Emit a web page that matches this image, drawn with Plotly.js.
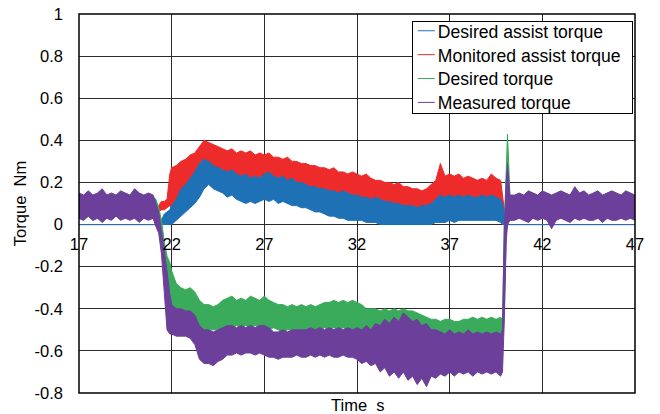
<!DOCTYPE html>
<html>
<head>
<meta charset="utf-8">
<script src="https://cdn.plot.ly/plotly-3.0.1.min.js"></script>
<style>html,body{margin:0;padding:0;background:#fff;}#chart{width:660px;height:414px;}</style>
</head>
<body>
<div id="chart"></div>
<script>
// Time samples (s)
const time = [
  17,17.25,17.5,17.75,18,18.25,18.5,18.75,19,19.25,19.5,19.75,20,20.25,20.5,20.75,21,
  21.15,21.3,21.45,21.6,21.75,21.9,
  22,22.25,22.5,22.75,23,23.25,23.5,23.75,
  24,24.25,24.5,24.75,25,25.25,25.5,25.75,
  26,26.25,26.5,26.75,27,27.25,27.5,27.75,
  28,28.25,28.5,28.75,29,29.25,29.5,29.75,
  30,30.25,30.5,30.75,31,31.25,31.5,31.75,
  32,32.25,32.5,32.75,33,33.25,33.5,33.75,
  34,34.25,34.5,34.75,35,35.25,35.5,35.75,
  36,36.25,36.5,36.75,37,37.25,37.5,37.75,
  38,38.25,38.5,38.75,39,39.25,39.5,39.75,
  39.85,39.95,40.05,40.12,40.25,
  40.5,40.75,41,41.25,41.5,41.75,42,42.25,42.5,42.75,43,43.25,43.5,43.75,44,44.25,44.5,44.75,45,45.25,45.5,45.75,46,46.25,46.5,46.75,47
];

// Desired assist torque (upper / lower edge of the noisy trace)
const desiredAssistHi = [
  0,0,0,0,0,0,0,0,0,0,0,0,0,0,0,0,0,
  0,0,0.02,0.05,0.06,0.07,
  0.09,0.12,0.17,0.19,0.22,0.25,0.29,0.31,
  0.30,0.28,0.27,0.26,0.25,0.26,0.24,0.23,
  0.24,0.22,0.23,0.22,0.24,0.25,0.23,0.22,
  0.23,0.21,0.22,0.20,0.20,0.19,0.18,0.18,
  0.17,0.17,0.16,0.16,0.15,0.16,0.15,0.14,
  0.14,0.13,0.13,0.12,0.13,0.12,0.11,0.11,
  0.10,0.10,0.09,0.09,0.09,0.08,0.09,0.09,
  0.10,0.12,0.14,0.13,0.14,0.13,0.14,0.13,
  0.14,0.13,0.13,0.14,0.13,0.14,0.13,0.12,
  0.10,0.04,0,0,0,
  0,0,0,0,0,0,0,0,0,0,0,0,0,0,0,0,0,0,0,0,0,0,0,0,0,0,0
];
const desiredAssistLo = [
  0,0,0,0,0,0,0,0,0,0,0,0,0,0,0,0,0,
  0,0,0,0,0,0,
  0.00,0.02,0.04,0.06,0.08,0.10,0.13,0.17,
  0.19,0.17,0.16,0.15,0.13,0.14,0.12,0.11,
  0.10,0.11,0.10,0.11,0.12,0.11,0.12,0.10,
  0.11,0.10,0.09,0.09,0.08,0.08,0.07,0.06,
  0.06,0.05,0.04,0.04,0.03,0.03,0.02,0.02,
  0.02,0.02,0.01,0.01,0.01,0,0,0,
  0,0,0,0,0,0,0,0,
  0,0.01,0.01,0.01,0.02,0.01,0.02,0.02,
  0.02,0.02,0.02,0.02,0.02,0.02,0.02,0.01,
  0,0,0,0,0,
  0,0,0,0,0,0,0,0,0,0,0,0,0,0,0,0,0,0,0,0,0,0,0,0,0,0,0
];

// Monitored assist torque
const monitoredAssistHi = [
  0,0,0,0,0,0,0,0,0,0,0,0,0,0,0,0,0,
  0,0.09,0.11,0.11,0.12,0.24,
  0.27,0.28,0.30,0.31,0.33,0.34,0.37,0.40,
  0.39,0.38,0.37,0.36,0.35,0.36,0.34,0.35,
  0.34,0.35,0.33,0.34,0.33,0.34,0.32,0.32,
  0.31,0.32,0.30,0.30,0.29,0.29,0.28,0.28,
  0.27,0.27,0.26,0.27,0.25,0.25,0.24,0.25,
  0.24,0.23,0.24,0.22,0.21,0.21,0.20,0.20,
  0.19,0.20,0.18,0.18,0.17,0.17,0.16,0.17,
  0.19,0.21,0.29,0.23,0.24,0.23,0.24,0.22,
  0.23,0.22,0.21,0.22,0.21,0.24,0.22,0.21,
  0.15,0.07,0,0,0,
  0,0,0,0,0,0,0,0,0,0,0,0,0,0,0,0,0,0,0,0,0,0,0,0,0,0,0
];
const monitoredAssistLo = [
  0,0,0,0,0,0,0,0,0,0,0,0,0,0,0,0,0,
  0,0.06,0.07,0.07,0.08,0.09,
  0.07,0.09,0.11,0.13,0.15,0.17,0.20,0.24,
  0.26,0.24,0.23,0.22,0.20,0.21,0.19,0.18,
  0.17,0.18,0.17,0.18,0.19,0.18,0.19,0.17,
  0.18,0.17,0.16,0.16,0.15,0.15,0.14,0.13,
  0.13,0.12,0.11,0.11,0.10,0.10,0.09,0.09,
  0.09,0.09,0.08,0.08,0.08,0.07,0.07,0.07,
  0.06,0.06,0.06,0.06,0.05,0.05,0.05,0.06,
  0.07,0.08,0.08,0.08,0.09,0.08,0.09,0.09,
  0.09,0.09,0.09,0.09,0.09,0.09,0.09,0.08,
  0.05,0,0,0,0,
  0,0,0,0,0,0,0,0,0,0,0,0,0,0,0,0,0,0,0,0,0,0,0,0,0,0,0
];

// Desired torque
const desiredTorqueHi = [
  0.14,0.13,0.15,0.13,0.14,0.16,0.13,0.14,0.13,0.15,0.14,0.13,0.16,0.14,0.13,0.14,0.13,
  0.12,0.08,0.02,-0.08,-0.15,-0.18,
  -0.22,-0.28,-0.30,-0.31,-0.30,-0.32,-0.36,-0.38,
  -0.38,-0.39,-0.38,-0.36,-0.35,-0.34,-0.36,-0.35,
  -0.36,-0.34,-0.35,-0.36,-0.34,-0.36,-0.37,-0.38,
  -0.38,-0.39,-0.38,-0.39,-0.38,-0.39,-0.38,-0.39,
  -0.38,-0.37,-0.37,-0.36,-0.37,-0.36,-0.37,-0.36,
  -0.37,-0.38,-0.40,-0.40,-0.40,-0.41,-0.40,-0.41,
  -0.40,-0.41,-0.40,-0.41,-0.41,-0.42,-0.43,-0.44,
  -0.45,-0.45,-0.46,-0.45,-0.45,-0.46,-0.46,-0.45,
  -0.45,-0.44,-0.45,-0.44,-0.45,-0.44,-0.45,-0.44,
  -0.45,0.00,0.30,0.43,0.14,
  0.13,0.14,0.13,0.15,0.14,0.13,0.15,0.14,0.13,0.14,0.15,0.14,0.13,0.17,0.14,0.15,0.13,0.14,0.16,0.13,0.14,0.15,0.14,0.13,0.15,0.14,0.13
];
const desiredTorqueLo = [
  0.03,0.02,0.04,0.02,0.03,0.02,0.03,0.03,0.04,0.03,0.03,0.03,0.03,0.02,0.03,0.03,0.03,
  0.00,-0.02,-0.10,-0.22,-0.30,-0.36,
  -0.38,-0.40,-0.41,-0.41,-0.42,-0.43,-0.48,-0.50,
  -0.50,-0.50,-0.50,-0.49,-0.48,-0.49,-0.48,-0.49,
  -0.48,-0.49,-0.48,-0.49,-0.49,-0.50,-0.49,-0.50,
  -0.51,-0.50,-0.50,-0.50,-0.50,-0.50,-0.49,-0.50,
  -0.50,-0.49,-0.50,-0.49,-0.50,-0.49,-0.50,-0.50,
  -0.50,-0.50,-0.50,-0.50,-0.49,-0.50,-0.50,-0.50,
  -0.50,-0.51,-0.50,-0.52,-0.53,-0.55,-0.57,-0.58,
  -0.58,-0.57,-0.58,-0.56,-0.55,-0.55,-0.56,-0.55,
  -0.55,-0.54,-0.55,-0.55,-0.54,-0.54,-0.54,-0.53,
  -0.55,-0.40,-0.05,0.00,0.03,
  0.03,0.03,0.03,0.02,0.03,0.03,0.03,0.03,0.00,0.03,0.03,0.03,0.02,0.03,0.03,0.03,0.03,0.03,0.03,0.02,0.03,0.03,0.03,0.03,0.03,0.03,0.03
];

// Measured torque
const measuredTorqueHi = [
  0.15,0.14,0.16,0.14,0.15,0.17,0.14,0.15,0.14,0.16,0.15,0.14,0.17,0.15,0.14,0.15,0.14,
  0.10,0.06,-0.03,-0.12,-0.22,-0.33,
  -0.38,-0.40,-0.40,-0.41,-0.41,-0.43,-0.48,-0.50,
  -0.50,-0.51,-0.50,-0.49,-0.48,-0.48,-0.49,-0.48,
  -0.49,-0.48,-0.49,-0.48,-0.48,-0.49,-0.51,-0.51,
  -0.50,-0.51,-0.50,-0.50,-0.50,-0.50,-0.49,-0.50,
  -0.49,-0.50,-0.49,-0.50,-0.49,-0.50,-0.49,-0.50,
  -0.49,-0.50,-0.48,-0.50,-0.47,-0.48,-0.45,-0.47,
  -0.44,-0.46,-0.42,-0.44,-0.46,-0.45,-0.48,-0.47,
  -0.50,-0.50,-0.51,-0.52,-0.50,-0.52,-0.51,-0.52,
  -0.50,-0.52,-0.51,-0.52,-0.51,-0.52,-0.51,-0.52,
  -0.50,0.00,0.20,0.29,0.14,
  0.14,0.15,0.14,0.16,0.15,0.14,0.16,0.15,0.14,0.15,0.16,0.15,0.14,0.18,0.15,0.16,0.14,0.15,0.16,0.14,0.15,0.16,0.15,0.14,0.16,0.15,0.14
];
const measuredTorqueLo = [
  0.03,0.02,0.04,0.02,0.03,0.01,0.03,0.02,0.04,0.02,0.03,0.02,0.03,0.01,0.03,0.02,0.03,
  -0.01,-0.04,-0.14,-0.30,-0.50,-0.52,
  -0.52,-0.53,-0.53,-0.53,-0.54,-0.57,-0.64,-0.66,
  -0.66,-0.67,-0.65,-0.64,-0.62,-0.62,-0.61,-0.62,
  -0.61,-0.61,-0.62,-0.61,-0.62,-0.63,-0.63,-0.64,
  -0.63,-0.63,-0.63,-0.62,-0.63,-0.63,-0.62,-0.63,
  -0.62,-0.63,-0.62,-0.63,-0.63,-0.62,-0.63,-0.63,
  -0.64,-0.66,-0.65,-0.67,-0.66,-0.70,-0.68,-0.72,
  -0.70,-0.73,-0.70,-0.74,-0.72,-0.76,-0.73,-0.77,
  -0.72,-0.73,-0.71,-0.72,-0.70,-0.72,-0.70,-0.71,
  -0.70,-0.72,-0.70,-0.71,-0.70,-0.71,-0.70,-0.72,
  -0.70,-0.45,-0.08,0.00,0.02,
  0.02,0.03,0.02,0.01,0.03,0.02,0.03,0.02,-0.02,0.02,0.03,0.02,0.01,0.03,0.02,0.03,0.02,0.02,0.03,0.01,0.03,0.02,0.02,0.03,0.02,0.03,0.02
];

const seriesNames = ['Desired assist torque','Monitored assist torque','Desired torque','Measured torque'];
const xTickVals = [17,22,27,32,37,42,47];
const xTickText = ['17','22','27','32','37','42','47'];
const yTickVals = [-0.8,-0.6,-0.4,-0.2,0,0.2,0.4,0.6,0.8,1];
const yTickText = ['-0.8','-0.6','-0.4','-0.2','0','0.2','0.4','0.6','0.8','1'];

const colors = {
  'Desired assist torque':'#1f71b6',
  'Monitored assist torque':'#ee2b2b',
  'Desired torque':'#3aab5b',
  'Measured torque':'#6b3f9a'
};

function band(name, hi, lo){
  const xs = time.concat(time.slice().reverse());
  const ys = hi.concat(lo.slice().reverse());
  return {
    x: xs, y: ys, type:'scatter', mode:'lines', fill:'toself',
    fillcolor: colors[name], line:{color:colors[name], width:1},
    hoverinfo:'skip', showlegend:false, name:name
  };
}

const traces = [
  band('Monitored assist torque', monitoredAssistHi, monitoredAssistLo),
  band('Desired assist torque', desiredAssistHi, desiredAssistLo),
  band('Desired torque', desiredTorqueHi, desiredTorqueLo),
  band('Measured torque', measuredTorqueHi, measuredTorqueLo)
];
seriesNames.forEach(n => traces.push({
  x:[null], y:[null], type:'scatter', mode:'lines', name:n,
  line:{color:colors[n], width:1}, showlegend:true
}));

const FONT = 'Liberation Sans, Arial, sans-serif';
const layout = {
  width:660, height:414,
  margin:{l:79, r:25, t:14, b:21, pad:0},
  paper_bgcolor:'#fff', plot_bgcolor:'#fff',
  font:{family:FONT, size:16, color:'#000'},
  showlegend:true,
  legend:{
    x:0.996, xanchor:'right', y:0.982, yanchor:'top',
    bgcolor:'#fff', bordercolor:'#000', borderwidth:1,
    font:{family:FONT, size:17.6, color:'#000'},
    tracegroupgap:0, itemwidth:30
  },
  xaxis:{
    range:[17,47], tickvals:xTickVals, ticktext:xTickText,
    anchor:'free', position:0.8/1.8,
    showgrid:true, gridcolor:'#2b2b2b', gridwidth:1,
    zeroline:false, showline:false, ticks:'',
    ticklabelstandoff:8, tickfont:{family:FONT, size:16.5, color:'#000'}
  },
  yaxis:{
    range:[-0.8,1], tickvals:yTickVals, ticktext:yTickText,
    showgrid:true, gridcolor:'#2b2b2b', gridwidth:1,
    zeroline:false, showline:false, ticks:'',
    ticklabelstandoff:15, tickfont:{family:FONT, size:16.5, color:'#000'},
    title:{text:'Torque\u00a0 Nm', font:{family:FONT, size:16.5, color:'#000'}, standoff:3}
  },
  annotations:[{
    text:'Time\u00a0 s', xref:'paper', yref:'paper', x:0.5, y:-0.032,
    xanchor:'center', yanchor:'middle', showarrow:false,
    font:{family:FONT, size:16.5, color:'#000'}
  }],
  shapes:[{
    type:'rect', xref:'paper', yref:'paper', x0:0, x1:1, y0:0, y1:1,
    line:{color:'#000', width:1.5}, layer:'above'
  }]
};

Plotly.newPlot('chart', traces, layout, {displayModeBar:false, staticPlot:true}).then(function(gd){
  // compact legend styling: short line samples and tight row spacing
  const leg = gd.querySelector('.legend');
  if(!leg) return;
  const shrinkW = 9, shrinkH = 23, shiftUp = 9, rowTighten = 2;
  const bg = leg.querySelector('rect.bg');
  if(bg){
    bg.setAttribute('width', parseFloat(bg.getAttribute('width')) - shrinkW);
    bg.setAttribute('height', parseFloat(bg.getAttribute('height')) - shrinkH);
  }
  const tr = leg.getAttribute('transform') || '';
  const m = tr.match(/translate\(\s*([-\d.]+)[ ,]+([-\d.]+)\s*\)/);
  if(m){ leg.setAttribute('transform', 'translate(' + (parseFloat(m[1]) + shrinkW) + ',' + m[2] + ')'); }
  leg.querySelectorAll('g.traces').forEach(function(g, i){
    const t = g.getAttribute('transform') || '';
    const mm = t.match(/translate\(\s*([-\d.]+)[ ,]+([-\d.]+)\s*\)/);
    if(mm){ g.setAttribute('transform', 'translate(' + mm[1] + ',' + (parseFloat(mm[2]) - shiftUp - rowTighten * i) + ')'); }
    g.querySelectorAll('.legendlines path').forEach(function(p){ p.setAttribute('d', 'M5,0h17'); });
    g.querySelectorAll('text.legendtext').forEach(function(tx){
      tx.setAttribute('x', 25);
      tx.querySelectorAll('tspan[x]').forEach(function(ts){ ts.setAttribute('x', 25); });
    });
  });
});
</script>
</body>
</html>
